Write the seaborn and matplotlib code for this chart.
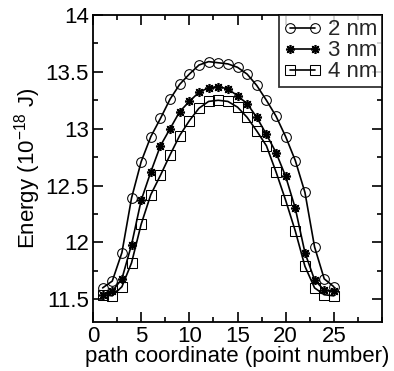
import numpy as np
import pandas as pd
import matplotlib
matplotlib.use("Agg")
import matplotlib.pyplot as plt
from matplotlib.ticker import MultipleLocator
import seaborn as sns

# Path coordinate (image number along the path)
points = list(range(1, 26))

# Energies in units of 1e-18 J for each size
energy_2nm = [11.60, 11.66, 11.91, 12.39, 12.71, 12.93, 13.09, 13.26, 13.39, 13.48,
              13.56, 13.59, 13.58, 13.57, 13.54, 13.48, 13.38, 13.25, 13.11, 12.93,
              12.72, 12.44, 11.96, 11.68, 11.61]
energy_3nm = [11.54, 11.57, 11.68, 11.98, 12.37, 12.62, 12.85, 13.00, 13.15, 13.24,
              13.32, 13.36, 13.37, 13.35, 13.29, 13.22, 13.10, 12.95, 12.79, 12.58,
              12.30, 11.91, 11.67, 11.58, 11.57]
energy_4nm = [11.54, 11.53, 11.61, 11.82, 12.16, 12.42, 12.59, 12.77, 12.94, 13.07,
              13.18, 13.24, 13.25, 13.24, 13.19, 13.10, 12.98, 12.85, 12.62, 12.37,
              12.10, 11.79, 11.60, 11.54, 11.53]

labels = ["2 nm", "3 nm", "4 nm"]
series = [energy_2nm, energy_3nm, energy_4nm]

sns.set_theme(style="ticks")
plt.rcParams["font.family"] = ["Liberation Sans", "DejaVu Sans"]
plt.rcParams["mathtext.fontset"] = "custom"
plt.rcParams["mathtext.rm"] = "Liberation Sans"

FS = 16

fig = plt.figure(figsize=(3.94, 3.71), dpi=100)
ax = fig.add_axes([93 / 394, 1 - 322 / 371, (382 - 93) / 394, (322 - 15) / 371])

marker_styles = {
    "2 nm": dict(marker="o", markersize=7, markerfacecolor="none"),
    "3 nm": dict(marker=(8, 2, 0), markersize=6.5, markeredgewidth=1.2),
    "4 nm": dict(marker="s", markersize=6.5, markerfacecolor="none"),
}

for lab, vals in zip(labels, series):
    df = pd.DataFrame({"point": points, "energy": vals})
    sns.lineplot(data=df, x="point", y="energy", ax=ax, color="black",
                 linewidth=1.2, markeredgecolor="black", label=lab,
                 **marker_styles[lab])

ax.set_xlim(0, 30)
ax.set_ylim(11.3, 14)
ax.set_xticks([0, 5, 10, 15, 20, 25])
ax.set_yticks([11.5, 12, 12.5, 13, 13.5, 14])
ax.set_yticklabels(["11.5", "12", "12.5", "13", "13.5", "14"])
ax.xaxis.set_minor_locator(MultipleLocator(2.5))
ax.yaxis.set_minor_locator(MultipleLocator(0.25))
ax.tick_params(which="both", direction="in", top=True, right=True,
               labelsize=FS, color="black", labelcolor="black", width=1.2, pad=3)
ax.tick_params(which="major", length=7)
ax.tick_params(which="minor", length=3.5)
for sp in ax.spines.values():
    sp.set_visible(True)
    sp.set_color("black")
    sp.set_linewidth(1.3)

ax.set_xlabel("path coordinate (point number)", fontsize=FS, labelpad=-1, color="black")
ax.set_ylabel(r"Energy (10$^{-18}$ J)", fontsize=FS, labelpad=2, color="black")

leg = ax.legend(loc="upper right", numpoints=2, frameon=True, fancybox=False,
                borderaxespad=0, fontsize=FS, handlelength=1.7, handletextpad=0.3,
                labelspacing=0.0, borderpad=0.2)
leg.get_frame().set_edgecolor("black")
leg.get_frame().set_linewidth(1.3)

fig.savefig("out.png", dpi=100)
